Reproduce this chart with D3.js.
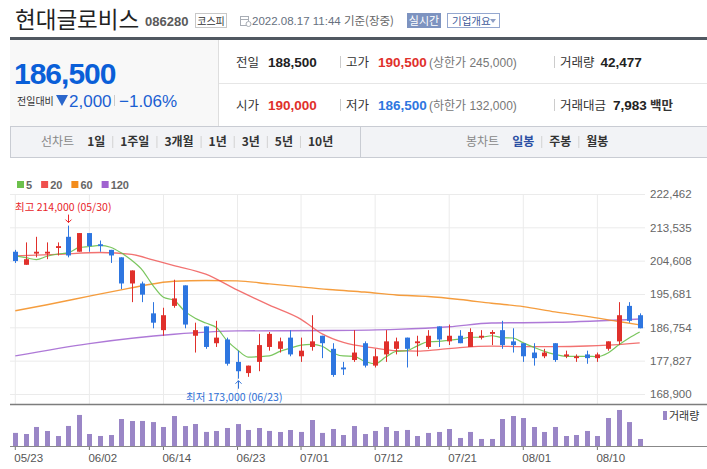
<!DOCTYPE html>
<html>
<head>
<meta charset="utf-8">
<script src="https://cdn.jsdelivr.net/npm/d3@7"></script>
<style>
  body { margin: 0; background: #fff; }
  svg { display: block; font-family: "Liberation Sans", Arial, "Noto Sans CJK KR", sans-serif; }
</style>
</head>
<body>
<div id="chart"></div>
<script>
// daily candles 2022-05-23 .. 2022-08-17
const days = ["05/23","05/24","05/25","05/26","05/27","05/30","05/31",
  "06/02","06/03","06/07","06/08","06/09","06/10","06/13","06/14","06/15","06/16","06/17","06/20","06/21","06/22","06/23","06/24","06/27","06/28","06/29","06/30",
  "07/01","07/04","07/05","07/06","07/07","07/08","07/11","07/12","07/13","07/14","07/15","07/18","07/19","07/20","07/21","07/22","07/25","07/26","07/27","07/28","07/29",
  "08/01","08/02","08/03","08/04","08/05","08/08","08/09","08/10","08/11","08/12","08/16","08/17"];

const opens = [207000,203500,206500,206500,208000,211000,207000,212000,209000,207500,
  205500,198500,198500,190500,186000,192500,198000,184500,187000,182500,
  183500,177500,174500,177500,181500,181000,184000,179000,181500,184500,
  181000,176000,178000,182500,176500,179500,181000,184000,182500,181500,
  187000,183000,184500,181500,184000,185000,186000,183000,182500,180000,
  179000,182500,179000,178500,179500,178500,181000,183000,192500,190000];
const highs = [207500,209500,211000,209500,209500,214000,212000,212000,210000,207500,
  205500,202000,199000,193500,192000,199500,198000,188000,187000,188500,
  184000,180500,176500,185000,185500,184000,186000,184000,190000,184500,
  182500,177500,186000,183000,181000,186000,184000,184000,184500,186000,
  187000,187500,186000,186500,186000,186000,188500,186500,182500,182500,
  181000,182500,180500,179500,180500,180000,183000,193500,193500,190500];
const lows = [204000,203500,205500,205000,206000,205500,207000,207000,207000,204000,
  197000,193500,193500,186500,184500,192000,186500,180000,181000,181500,
  176500,173000,173500,175000,180500,180000,179000,177500,180500,178500,
  173500,174000,177500,176000,176000,177500,179500,176000,179000,181000,
  181500,182000,182500,181500,183500,182000,181000,180000,177500,176500,
  178500,177500,178500,177500,177000,177500,180500,182000,188000,186500];
const closes = [204500,205000,207000,207000,208500,206000,212000,208500,208500,206000,
  198500,202000,195500,188000,190000,194500,187500,186000,181500,184000,
  177000,175000,176500,182000,185000,183000,179500,180500,183000,182500,
  174000,175500,180000,176500,179000,183000,183000,181000,183000,184500,
  183500,184500,182500,185500,184500,185500,182000,182000,179000,178500,
  180000,178000,179500,179000,178500,179500,183000,190000,188500,186500];
const volumes = [79310,72640,115220,90870,60410,121350,188020,72590,60730,66480,
  163410,151280,151630,144920,115170,181540,120860,133120,85240,90960,
  109130,132870,97050,108940,91230,84870,96920,85110,157380,79140,
  103060,66520,120940,72460,91080,114970,90880,97140,60560,79030,
  84960,102910,48620,85070,42580,42610,163470,181620,169410,115080,
  84930,115160,60480,66590,91020,60470,169530,218110,144960,42477];

// moving averages
const ma5 = [205900,205400,204900,205800,206400,206700,208100,208400,208700,208200,
  206700,204700,202100,198000,194800,194000,191100,189200,187900,186700,
  183200,180700,178800,178900,179100,180300,181200,182000,182200,181700,
  179900,179100,179000,177700,177000,178800,180300,180500,181800,182900,
  183000,183300,183600,184100,184100,184500,184000,183900,182600,181400,
  180300,179500,179000,179000,179000,178900,179900,182000,183900,185500];
const ma20 = [["05/23",205900],["05/27",206300],["06/03",206800],["06/09",206300],["06/13",204800],
  ["06/15",203300],["06/20",201000],["06/23",196700],["06/28",192700],["07/01",188900],
  ["07/05",185000],["07/07",182700],["07/12",181200],["07/14",180500],["07/18",180400],
  ["07/20",180800],["07/22",181300],["07/27",181700],["08/01",181600],["08/04",181600],
  ["08/09",181750],["08/11",182000],["08/17",182600]];
const ma60 = [["05/23",191200],["05/26",192800],["06/02",195100],["06/08",196800],["06/10",197900],
  ["06/15",199100],["06/20",199300],["06/23",199200],["06/28",198400],["07/01",197600],
  ["07/06",196800],["07/11",196200],["07/14",195400],["07/19",195000],["07/22",194200],
  ["07/27",193200],["08/01",192300],["08/04",190900],["08/09",189700],["08/12",188300],["08/17",187400]];
const ma120 = [["05/23",179100],["06/02",182400],["06/15",184900],["06/23",185800],["07/06",185900],
  ["07/14",186200],["07/21",186900],["07/27",187900],["08/04",188100],["08/17",189000]];

const priceTicks = [168900,177827,186754,195681,204608,213535,222462];
const tickDays = ["05/23","06/02","06/14","06/23","07/01","07/12","07/21","08/01","08/10"];
const maNames = ["5","20","60","120"];
const lineTabs = ["1일","1주일","3개월","1년","3년","5년","10년"];
const candleTabs = ["일봉","주봉","월봉"];

const width = 707, height = 469;
const RED = "#e0302b", BLUE = "#2e76e0";
const maColors = ["#6cc04c", "#ef4f4d", "#f38c1c", "#a062d0"];
const KR = "'Noto Sans CJK KR', sans-serif";

const svg = d3.select("#chart").append("svg")
  .attr("width", width).attr("height", height);

svg.append("rect").attr("width", width).attr("height", height).attr("fill", "#fff");

// ---------- header ----------
svg.append("text").attr("x", 15).attr("y", 28)
  .style("font-family", KR).style("font-size", "22.5px").attr("fill", "#222")
  .text("현대글로비스");
svg.append("text").attr("x", 145).attr("y", 26)
  .style("font-size", "13px").style("font-weight", "bold").attr("fill", "#5a5a5a")
  .text("086280");
svg.append("rect").attr("x", 195.5).attr("y", 13.5).attr("width", 31).attr("height", 14)
  .attr("fill", "#fff").attr("stroke", "#c8c8c8");
svg.append("text").attr("x", 211).attr("y", 24.5).attr("text-anchor", "middle")
  .style("font-family", KR).style("font-size", "10px").attr("fill", "#333").text("코스피");

// little calendar icon
const ic = svg.append("g").attr("transform", "translate(240,15)").attr("stroke", "#a8adb5").attr("fill", "none");
ic.append("rect").attr("x", 0.5).attr("y", 1.5).attr("width", 8).attr("height", 9);
ic.append("line").attr("x1", 0.5).attr("x2", 8.5).attr("y1", 4.5).attr("y2", 4.5);
ic.append("circle").attr("cx", 8.5).attr("cy", 9).attr("r", 2.5).attr("fill", "#fff");

const dt = svg.append("text").attr("x", 252).attr("y", 25).style("font-size", "11.5px");
dt.append("tspan").attr("fill", "#667080").text("2022.08.17 11:44 ");
dt.append("tspan").attr("fill", "#666").style("font-family", KR).text("기준(장중)");

svg.append("rect").attr("x", 407).attr("y", 13).attr("width", 34).attr("height", 15).attr("fill", "#7d93c0");
svg.append("text").attr("x", 424).attr("y", 24.5).attr("text-anchor", "middle")
  .style("font-family", KR).style("font-size", "11px").attr("fill", "#fff").text("실시간");
svg.append("rect").attr("x", 447.5).attr("y", 13.5).attr("width", 52).attr("height", 14)
  .attr("fill", "#fff").attr("stroke", "#94a7cf");
svg.append("text").attr("x", 452).attr("y", 24.5)
  .style("font-family", KR).style("font-size", "10.5px").attr("fill", "#3d5a9a").text("기업개요");
svg.append("path").attr("d", "M490,19 L496,19 L493,23 Z").attr("fill", "#8e9fc4");

// ---------- price summary ----------
svg.append("rect").attr("x", 10).attr("y", 37).attr("width", 697).attr("height", 3).attr("fill", "#505861");
svg.append("rect").attr("x", 10).attr("y", 40).attr("width", 208).attr("height", 86).attr("fill", "#f8f8f8");
svg.append("line").attr("x1", 218.5).attr("x2", 218.5).attr("y1", 40).attr("y2", 126).attr("stroke", "#dedede");
svg.append("line").attr("x1", 219).attr("x2", 707).attr("y1", 83.5).attr("y2", 83.5).attr("stroke", "#e6e6e6");

const last = closes[closes.length - 1];
const prev = closes[closes.length - 2];
const fmt = d3.format(",");

svg.append("text").attr("x", 14).attr("y", 84)
  .style("font-size", "30px").style("font-weight", "bold").style("letter-spacing", "-1px")
  .attr("fill", "#0a5fd8").text(fmt(last));
svg.append("text").attr("x", 17).attr("y", 105)
  .style("font-family", KR).style("font-size", "10px").attr("fill", "#333").text("전일대비");
svg.append("path").attr("d", "M56,95 L68,95 L62,106 Z").attr("fill", "#2a66cc");
svg.append("text").attr("x", 69).attr("y", 107).style("font-size", "17px").attr("fill", "#1b5fd2")
  .text(fmt(prev - last));
svg.append("line").attr("x1", 114.5).attr("x2", 114.5).attr("y1", 95).attr("y2", 106).attr("stroke", "#ccc");
svg.append("text").attr("x", 119).attr("y", 107).style("font-size", "17px").attr("fill", "#1b5fd2")
  .text("\u2212" + ((prev - last) / prev * 100).toFixed(2) + "%");

function stat(x, yb, label, value, color) {
  svg.append("text").attr("x", x).attr("y", yb)
    .style("font-family", KR).style("font-size", "12.5px").attr("fill", "#333").text(label);
  return svg.append("text").attr("x", x + (label.length > 2 ? label.length * 12.5 + 3 : 32)).attr("y", yb)
    .style("font-size", "13.5px").style("font-weight", "bold").attr("fill", color).text(value);
}
function note(x, yb, txt) {
  svg.append("text").attr("x", x).attr("y", yb)
    .style("font-size", "12px").attr("fill", "#777").text(txt);
}
function sep(x, yb) {
  svg.append("line").attr("x1", x).attr("x2", x).attr("y1", yb - 11).attr("y2", yb + 1).attr("stroke", "#ccc");
}
stat(236, 67, "전일", fmt(prev), "#222");
sep(340.5, 67);
stat(346, 67, "고가", fmt(d3.max([190500])), RED);
note(429, 67, "(상한가 245,000)");
sep(554.5, 67);
stat(560, 67, "거래량", fmt(volumes[volumes.length - 1]), "#222");

stat(236, 110, "시가", fmt(opens[opens.length - 1]), RED);
sep(340.5, 110);
stat(346, 110, "저가", fmt(lows[lows.length - 1]), BLUE);
note(429, 110, "(하한가 132,000)");
sep(554.5, 110);
stat(560, 110, "거래대금", "7,983", "#222");
svg.append("text").attr("x", 650).attr("y", 110)
  .style("font-family", KR).style("font-size", "12.5px").style("font-weight", "bold").attr("fill", "#333").text("백만");

// ---------- tab bar ----------
svg.append("rect").attr("x", 10.5).attr("y", 126.5).attr("width", 697).attr("height", 31)
  .attr("fill", "#f2f3f6").attr("stroke", "#c9ccd3");
svg.append("line").attr("x1", 360.5).attr("x2", 360.5).attr("y1", 127).attr("y2", 157).attr("stroke", "#c9ccd3");

function tabRow(x0, title, items, active) {
  let x = x0;
  const t = svg.append("text").attr("x", x).attr("y", 146)
    .style("font-family", KR).style("font-size", "12px").attr("fill", "#888").text(title);
  x += t.node().getComputedTextLength() + 13;
  items.forEach((s, i) => {
    const el = svg.append("text").attr("x", x).attr("y", 146)
      .style("font-family", KR).style("font-size", "12px").style("font-weight", "bold")
      .attr("fill", s === active ? "#2b4fa3" : "#333").text(s);
    x += el.node().getComputedTextLength();
    if (i < items.length - 1) {
      svg.append("line").attr("x1", x + 7.5).attr("x2", x + 7.5).attr("y1", 136).attr("y2", 148).attr("stroke", "#d2d2d2");
      x += 15;
    }
  });
}
tabRow(41, "선차트", lineTabs, null);
tabRow(466, "봉차트", candleTabs, "일봉");

// ---------- legend ----------
let lx = 17;
maNames.forEach((n, i) => {
  svg.append("rect").attr("x", lx).attr("y", 181).attr("width", 7).attr("height", 7).attr("fill", maColors[i]);
  const t = svg.append("text").attr("x", lx + 9).attr("y", 188.5)
    .style("font-size", "11px").style("font-weight", "bold").attr("fill", "#666").text(n);
  lx += 9 + t.node().getComputedTextLength() + 9;
});

// ---------- scales ----------
const x = d3.scaleBand().domain(days).range([10, 645]);
const cx = d => x(d) + x.bandwidth() / 2;
const y = d3.scaleLinear().domain([priceTicks[0], priceTicks[priceTicks.length - 1]]).range([394, 194]);
const yv = d3.scaleLinear().domain([0, 218000]).range([446, 410]);

// grid
const gy = svg.append("g").attr("transform", "translate(645,0)")
  .call(d3.axisLeft(y).tickValues(priceTicks).tickSize(635).tickFormat(""));
gy.select(".domain").remove();
gy.selectAll("line").attr("stroke", "#ebebeb");

const gx = svg.append("g").attr("transform", "translate(0,404)")
  .call(d3.axisTop(x).tickValues(tickDays).tickSize(210).tickFormat(""));
gx.select(".domain").remove();
gx.selectAll("line").attr("stroke", "#ebebeb");

// price labels on the right
const ay = svg.append("g").attr("transform", "translate(645,0)")
  .call(d3.axisRight(y).tickValues(priceTicks).tickSize(0).tickPadding(5).tickFormat(fmt));
ay.select(".domain").remove();
ay.selectAll("text").style("font-size", "11.5px").attr("fill", "#666").style("font-family", "'Liberation Sans', Arial");

// ---------- moving averages ----------
const lineFull = d3.line().x((d, i) => cx(days[i])).y(d => y(d)).curve(d3.curveMonotoneX);
const linePairs = d3.line().x(d => cx(d[0])).y(d => y(d[1])).curve(d3.curveMonotoneX);
const maG = svg.append("g").attr("fill", "none");
maG.append("path").attr("d", linePairs(ma120)).attr("stroke", maColors[3]).attr("stroke-width", 1.4).attr("opacity", 0.85);
maG.append("path").attr("d", linePairs(ma60)).attr("stroke", maColors[2]).attr("stroke-width", 1.4).attr("opacity", 0.85);
maG.append("path").attr("d", linePairs(ma20)).attr("stroke", maColors[1]).attr("stroke-width", 1.3).attr("opacity", 0.8);
maG.append("path").attr("d", lineFull(ma5)).attr("stroke", maColors[0]).attr("stroke-width", 1.2).attr("opacity", 0.9);

// ---------- candles ----------
const rows = days.map((d, i) => ({ day: d, o: opens[i], h: highs[i], l: lows[i], c: closes[i], v: volumes[i] }));
const col = d => d.c >= d.o ? RED : BLUE;
const px = d => Math.round(cx(d.day));

const cg = svg.append("g");
cg.selectAll("line").data(rows).join("line")
  .attr("x1", d => px(d) + 0.5).attr("x2", d => px(d) + 0.5)
  .attr("y1", d => y(d.h)).attr("y2", d => y(d.l))
  .attr("stroke", col);
cg.selectAll("rect").data(rows).join("rect")
  .attr("x", d => px(d) - 2).attr("width", 5)
  .attr("y", d => y(Math.max(d.o, d.c)))
  .attr("height", d => Math.max(1, Math.abs(y(d.o) - y(d.c))))
  .attr("fill", col);

// high / low annotations
const hiI = d3.maxIndex(highs), loI = d3.minIndex(lows);
const hx = Math.round(cx(days[hiI])) + 0.5;
svg.append("text").attr("x", 15).attr("y", 211)
  .style("font-family", KR).style("font-size", "10.5px").attr("fill", "#e8242a")
  .text(`최고 ${fmt(highs[hiI])} (${days[hiI]})`);
svg.append("line").attr("x1", hx).attr("x2", hx).attr("y1", y(highs[hiI]) - 11).attr("y2", y(highs[hiI]) - 3).attr("stroke", "#e8242a");
svg.append("path").attr("d", `M${hx - 3},${y(highs[hiI]) - 6} L${hx},${y(highs[hiI]) - 3} L${hx + 3},${y(highs[hiI]) - 6}`)
  .attr("fill", "none").attr("stroke", "#e8242a");

const lxp = Math.round(cx(days[loI])) + 0.5;
svg.append("text").attr("x", 186).attr("y", 400.5)
  .style("font-family", KR).style("font-size", "10.5px").attr("fill", "#2d6fd6")
  .text(`최저 ${fmt(lows[loI])} (${days[loI]})`);
svg.append("line").attr("x1", lxp).attr("x2", lxp).attr("y1", y(lows[loI]) + 2).attr("y2", y(lows[loI]) + 10).attr("stroke", "#2d6fd6");
svg.append("path").attr("d", `M${lxp - 3},${y(lows[loI]) + 5} L${lxp},${y(lows[loI]) + 2} L${lxp + 3},${y(lows[loI]) + 5}`)
  .attr("fill", "none").attr("stroke", "#2d6fd6");

// panel separator
svg.append("line").attr("x1", 10).attr("x2", 707).attr("y1", 404.5).attr("y2", 404.5).attr("stroke", "#7d7d7d").attr("stroke-width", 1.5);

// ---------- volume ----------
svg.append("g").selectAll("rect").data(rows).join("rect")
  .attr("x", d => px(d) - 2).attr("width", 5)
  .attr("y", d => yv(d.v)).attr("height", d => 446 - yv(d.v))
  .attr("fill", "#9a86c6");

svg.append("rect").attr("x", 663).attr("y", 411).attr("width", 4).attr("height", 9).attr("fill", "#9a86c6");
svg.append("text").attr("x", 669).attr("y", 419.5)
  .style("font-family", KR).style("font-size", "11px").attr("fill", "#333").text("거래량");

const ax = svg.append("g").attr("transform", "translate(0,446)")
  .call(d3.axisBottom(x).tickValues(tickDays).tickSize(4).tickPadding(4));
ax.select(".domain").remove();
ax.selectAll("line").attr("stroke", "#777");
ax.selectAll("text").attr("text-anchor", "start").attr("dx", "-1")
  .style("font-size", "11.5px").attr("fill", "#555").style("font-family", "'Liberation Sans', Arial");
svg.append("line").attr("x1", 10).attr("x2", 707).attr("y1", 446.5).attr("y2", 446.5).attr("stroke", "#888");
</script>
</body>
</html>
